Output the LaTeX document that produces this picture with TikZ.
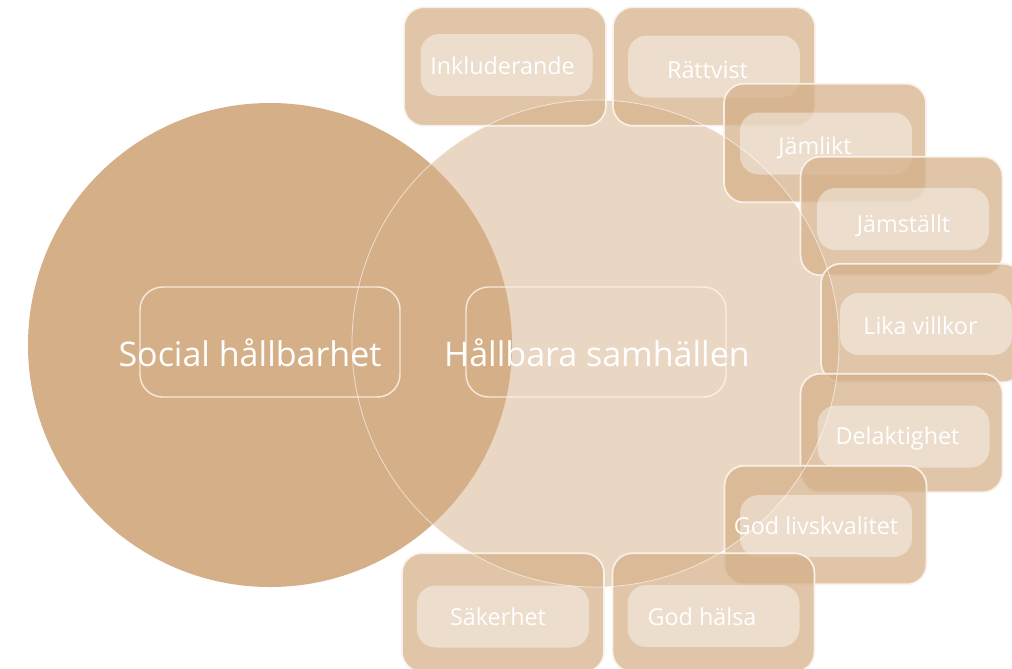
\documentclass[tikz,border=0pt]{standalone}
\usepackage{fontspec}
\setmainfont{Open Sans}
\usepackage{xcolor}
\definecolor{hbtan}{RGB}{212,175,135}
\definecolor{hbline}{RGB}{250,243,235}
\usetikzlibrary{positioning}

\tikzset{
  outerbox/.style={draw=hbline, line width=1.3pt, fill=hbtan, fill opacity=0.72,
                   draw opacity=0.95, rounded corners=15pt, minimum width=151.5pt,
                   minimum height=89pt, inner sep=0pt},
  innerbox/.style={fill=white, fill opacity=0.42, rounded corners=14pt,
                   minimum width=129pt, minimum height=46.5pt, inner sep=0pt},
  tagtext/.style={text=white, font=\fontsize{17.5}{20}\selectfont, anchor=base, inner sep=0pt},
  bigbox/.style={draw=hbline, line width=1.1pt, draw opacity=0.85, rounded corners=17pt,
                 minimum width=195pt, minimum height=82.5pt, inner sep=0pt},
  bigtext/.style={text=white, font=\fontsize{25.5}{30}\selectfont, anchor=base, inner sep=0pt}
}

\begin{document}
\begin{tikzpicture}[x=0.75pt, y=-0.75pt]
\useasboundingbox (0,0) rectangle (1012,668);
\clip (0,0) rectangle (1012,668);

% === Circles ===
\fill[hbtan, opacity=0.5] (595.5,343.5) circle (243.5);
\fill[hbtan] (270,345) circle (242);

% === Centre labels ===
\node[bigbox] (socialbox) at (270,342) {};
\node[bigtext] (social) at (250,366) {Social hållbarhet};
\node[bigbox] (samhbox) at (596,342) {};
\node[bigtext] (samh) at (597,366) {Hållbara samhällen};

% === Tags round the ring ===
\node[outerbox] (inkl) at (505,66.5) {};
\node[innerbox] (inklin) at (506.5,65) {};
\node[tagtext] (inkltxt) at (502.5,74) {Inkluderande};

\node[outerbox] (ratt) at (714,66.5) {};
\node[innerbox] (rattin) at (714,66.5) {};
\node[tagtext] (ratttxt) at (707.5,78) {Rättvist};

\node[outerbox] (jaml) at (825,143) {};
\node[innerbox] (jamlin) at (826,143.5) {};
\node[tagtext] (jamltxt) at (815,154) {Jämlikt};

\node[outerbox] (jams) at (901.5,216) {};
\node[innerbox] (jamsin) at (903,219) {};
\node[tagtext] (jamstxt) at (903.5,232.5) {Jämställt};

\node[outerbox] (lika) at (922,323) {};
\node[innerbox] (likain) at (926,324) {};
\node[tagtext] (likatxt) at (920.5,334) {Lika villkor};

\node[outerbox] (dela) at (901.5,433) {};
\node[innerbox] (delain) at (903.5,436.5) {};
\node[tagtext] (delatxt) at (897.5,444) {Delaktighet};

\node[outerbox] (godl) at (825.5,525) {};
\node[innerbox] (godlin) at (826,526) {};
\node[tagtext] (godltxt) at (816,534) {God livskvalitet};

\node[outerbox] (saker) at (503,612.5) {};
\node[innerbox] (sakerin) at (503,616.5) {};
\node[tagtext] (sakertxt) at (498,625) {Säkerhet};

\node[outerbox] (godh) at (713.5,612.5) {};
\node[innerbox] (godhin) at (713.5,616) {};
\node[tagtext] (godhtxt) at (702,625) {God hälsa};

% ring outline on top
\draw[white, opacity=0.6, line width=0.6pt] (595.5,343.5) circle (243.5);

\end{tikzpicture}
\end{document}
